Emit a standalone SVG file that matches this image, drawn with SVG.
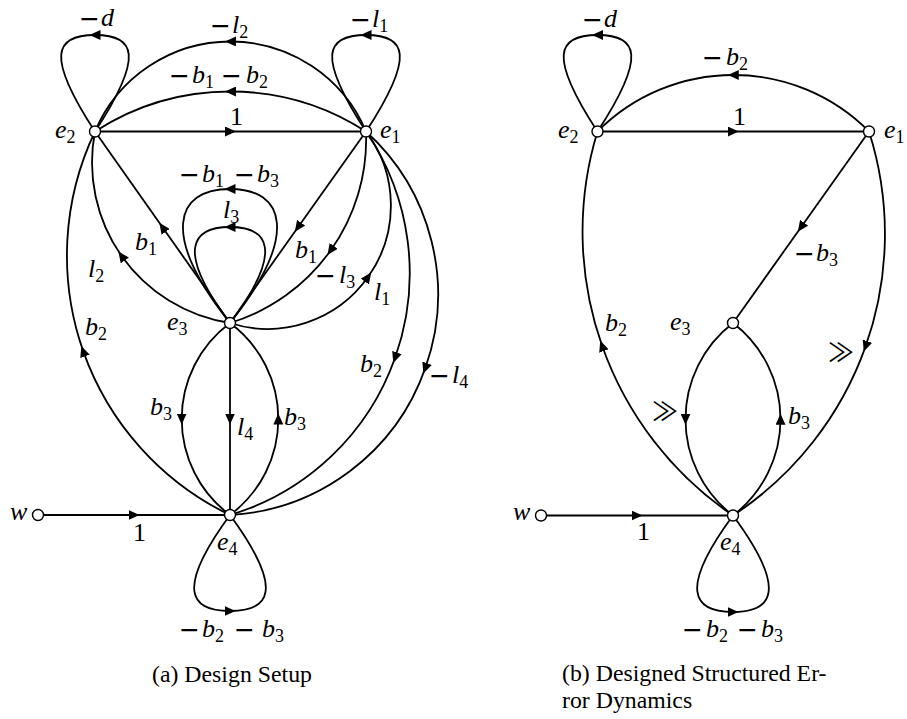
<svg xmlns="http://www.w3.org/2000/svg" width="907" height="719" viewBox="0 0 907 719">
<style>
.e{fill:none;stroke:#000;stroke-width:1.8;marker-mid:url(#a)}
.n{fill:#fff;stroke:#000;stroke-width:1.4}
.t{font-family:'Liberation Serif','Times New Roman',Times,'DejaVu Serif',serif;font-size:26px;font-style:italic;fill:#000}
.s{font-size:18px;font-style:normal}
.u{font-style:normal}
.mn{font-family:'DejaVu Sans',sans-serif;font-style:normal;font-size:25px}
.gg{font-family:'Noto Sans CJK JP','DejaVu Sans',sans-serif;font-size:26px;font-style:normal}
.cap{font-family:'Liberation Serif','Times New Roman',Times,'DejaVu Serif',serif;font-size:23.8px;fill:#000}
</style>
<defs>
<marker id="a" viewBox="0 0 11 10" refX="5.5" refY="5" markerWidth="11" markerHeight="10" markerUnits="userSpaceOnUse" orient="auto"><path d="M0,0 L11,5 L0,10 z" fill="#000"/></marker>
</defs>

<!-- (a) Design Setup -->
<g id="connectors-a">
<path class="e" d="M95,131.5 C145,55 135,35 95,35 C55,35 45,55 95,131.5"/>
<path class="e" d="M366,131.5 C416,55 406,35 366,35 C326,35 316,55 366,131.5"/>
<path class="e" d="M366,131.5 A147,147 0 0 0 230.5,41.5 A147,147 0 0 0 95,131.5"/>
<path class="e" d="M366,131.5 A249.5,249.5 0 0 0 230.5,91.5 A249.5,249.5 0 0 0 95,131.5"/>
<path class="e" d="M95,131.5 L230.5,131.5 L366,131.5"/>
<path class="e" d="M230,323 C300,235 285,189 230,189 C175,189 160,235 230,323"/>
<path class="e" d="M230,323 C285,250 268,227 230,227 C192,227 175,250 230,323"/>
<path class="e" d="M230,323 L162.5,227.25 L95,131.5"/>
<path class="e" d="M366,131.5 L298,227.25 L230,323"/>
<path class="e" d="M366,131.5 A191.7,191.7 0 0 1 330.6,250.45 A191.7,191.7 0 0 1 230,323"/>
<path class="e" d="M230,323 A122.9,122.9 0 0 0 368,277.1 A122.9,122.9 0 0 0 366,131.5"/>
<path class="e" d="M230,323 A162.7,162.7 0 0 1 121.6,256 A162.7,162.7 0 0 1 95,131.5"/>
<path class="e" d="M230,515 A288.5,288.5 0 0 1 83.2,351.1 A288.5,288.5 0 0 1 95,131.5"/>
<path class="e" d="M366,131.5 A251.5,251.5 0 0 1 395.1,357.7 A251.5,251.5 0 0 1 230,515"/>
<path class="e" d="M366,131.5 A220,220 0 0 1 425.2,368.4 A220,220 0 0 1 230,515"/>
<path class="e" d="M230,323 A119.6,119.6 0 0 0 181.7,419 A119.6,119.6 0 0 0 230,515"/>
<path class="e" d="M230,323 L230,419 L230,515"/>
<path class="e" d="M230,515 A119.6,119.6 0 0 0 278.3,419 A119.6,119.6 0 0 0 230,323"/>
<path class="e" d="M38,515 L134,515 L230,515"/>
<path class="e" d="M230,515 C175,590 190,611 230,611 C270,611 285,590 230,515"/>
</g>
<g id="labels-a">
<text class="t" y="26"><tspan class="mn" x="79" dy="1">−</tspan><tspan x="101" dy="-1">d</tspan></text>
<text class="t" y="33"><tspan class="mn" x="210" dy="1">−</tspan><tspan x="232" dy="-1">l</tspan><tspan class="s" dy="4.5">2</tspan></text>
<text class="t" y="27"><tspan class="mn" x="350" dy="1">−</tspan><tspan x="372" dy="-1">l</tspan><tspan class="s" dy="4.5">1</tspan></text>
<text class="t" y="83"><tspan class="mn" x="169" dy="1">−</tspan><tspan x="192" dy="-1">b</tspan><tspan class="s" dy="4.5">1</tspan><tspan class="mn" x="221" dy="-3.5">−</tspan><tspan x="246" dy="-1">b</tspan><tspan class="s" dy="4.5">2</tspan></text>
<text class="t u" x="230" y="125">1</text>
<text class="t" y="182"><tspan class="mn" x="179" dy="1">−</tspan><tspan x="202" dy="-1">b</tspan><tspan class="s" dy="4.5">1</tspan><tspan class="mn" x="234" dy="-3.5">−</tspan><tspan x="257" dy="-1">b</tspan><tspan class="s" dy="4.5">3</tspan></text>
<text class="t" x="223" y="218">l<tspan class="s" dy="4.5">3</tspan></text>
<text class="t" x="135" y="250">b<tspan class="s" dy="4.5">1</tspan></text>
<text class="t" x="88" y="277">l<tspan class="s" dy="4.5">2</tspan></text>
<text class="t" x="85" y="335">b<tspan class="s" dy="4.5">2</tspan></text>
<text class="t" x="295" y="258">b<tspan class="s" dy="4.5">1</tspan></text>
<text class="t" y="283"><tspan class="mn" x="315" dy="1">−</tspan><tspan x="339" dy="-1">l</tspan><tspan class="s" dy="4.5">3</tspan></text>
<text class="t" x="374" y="300">l<tspan class="s" dy="4.5">1</tspan></text>
<text class="t" x="360" y="372">b<tspan class="s" dy="4.5">2</tspan></text>
<text class="t" y="383"><tspan class="mn" x="429" dy="1">−</tspan><tspan x="452" dy="-1">l</tspan><tspan class="s" dy="4.5">4</tspan></text>
<text class="t" x="150" y="415">b<tspan class="s" dy="4.5">3</tspan></text>
<text class="t" x="237" y="435">l<tspan class="s" dy="4.5">4</tspan></text>
<text class="t" x="284" y="425">b<tspan class="s" dy="4.5">3</tspan></text>
<text class="t u" x="133" y="541">1</text>
<text class="t" y="637"><tspan class="mn" x="179" dy="1">−</tspan><tspan x="202" dy="-1">b</tspan><tspan class="s" dy="4.5">2</tspan><tspan class="mn" x="234" dy="-3.5">−</tspan><tspan x="262" dy="-1">b</tspan><tspan class="s" dy="4.5">3</tspan></text>
</g>
<g id="node-a-e2"><circle class="n" cx="95" cy="131.5" r="5.5"/><text class="t" x="55" y="138">e<tspan class="s" dy="4.5">2</tspan></text></g>
<g id="node-a-e1"><circle class="n" cx="366" cy="131.5" r="5.5"/><text class="t" x="380" y="138">e<tspan class="s" dy="4.5">1</tspan></text></g>
<g id="node-a-e3"><circle class="n" cx="230" cy="323" r="5.5"/><text class="t" x="167" y="330">e<tspan class="s" dy="4.5">3</tspan></text></g>
<g id="node-a-e4"><circle class="n" cx="230" cy="515" r="5.5"/><text class="t" x="217" y="550">e<tspan class="s" dy="4.5">4</tspan></text></g>
<g id="node-a-w"><circle class="n" cx="38" cy="515" r="5.5"/><text class="t" x="10" y="520">w</text></g>
<text class="cap" x="152" y="682">(a) Design Setup</text>

<!-- (b) Designed Structured Error Dynamics -->
<g id="connectors-b">
<path class="e" d="M597.5,131.5 C647.5,55 637.5,35 597.5,35 C557.5,35 547.5,55 597.5,131.5"/>
<path class="e" d="M869,131.5 A191.3,191.3 0 0 0 733.25,75 A191.3,191.3 0 0 0 597.5,131.5"/>
<path class="e" d="M597.5,131.5 L733.25,131.5 L869,131.5"/>
<path class="e" d="M869,131.5 L801,227.25 L733,323"/>
<path class="e" d="M869,131.5 A337,337 0 0 1 865.6,346.4 A337,337 0 0 1 733,515.5"/>
<path class="e" d="M733,515.5 A342.8,342.8 0 0 1 602.1,345.8 A342.8,342.8 0 0 1 597.5,131.5"/>
<path class="e" d="M733,323 A121.3,121.3 0 0 0 685.5,419.25 A121.3,121.3 0 0 0 733,515.5"/>
<path class="e" d="M733,515.5 A121.3,121.3 0 0 0 780.5,419.25 A121.3,121.3 0 0 0 733,323"/>
<path class="e" d="M541,515.5 L637,515.5 L733,515.5"/>
<path class="e" d="M733,515.5 C678,590 693,612 733,612 C773,612 788,590 733,515.5"/>
</g>
<g id="labels-b">
<text class="t" y="27"><tspan class="mn" x="582" dy="1">−</tspan><tspan x="604" dy="-1">d</tspan></text>
<text class="t" y="65"><tspan class="mn" x="702" dy="1">−</tspan><tspan x="726" dy="-1">b</tspan><tspan class="s" dy="4.5">2</tspan></text>
<text class="t u" x="733" y="125">1</text>
<text class="t" y="261"><tspan class="mn" x="794" dy="1">−</tspan><tspan x="816" dy="-1">b</tspan><tspan class="s" dy="4.5">3</tspan></text>
<text class="t" x="605" y="331">b<tspan class="s" dy="4.5">2</tspan></text>
<text class="gg" x="828" y="362">≫</text>
<text class="gg" x="652" y="421">≫</text>
<text class="t" x="788" y="424">b<tspan class="s" dy="4.5">3</tspan></text>
<text class="t u" x="637" y="540">1</text>
<text class="t" y="637"><tspan class="mn" x="682" dy="1">−</tspan><tspan x="706" dy="-1">b</tspan><tspan class="s" dy="4.5">2</tspan><tspan class="mn" x="737" dy="-3.5">−</tspan><tspan x="761" dy="-1">b</tspan><tspan class="s" dy="4.5">3</tspan></text>
</g>
<g id="node-b-e2"><circle class="n" cx="597.5" cy="131.5" r="5.5"/><text class="t" x="558" y="138">e<tspan class="s" dy="4.5">2</tspan></text></g>
<g id="node-b-e1"><circle class="n" cx="869" cy="131.5" r="5.5"/><text class="t" x="884" y="138">e<tspan class="s" dy="4.5">1</tspan></text></g>
<g id="node-b-e3"><circle class="n" cx="733" cy="323" r="5.5"/><text class="t" x="670" y="330">e<tspan class="s" dy="4.5">3</tspan></text></g>
<g id="node-b-e4"><circle class="n" cx="733" cy="515.5" r="5.5"/><text class="t" x="720" y="550">e<tspan class="s" dy="4.5">4</tspan></text></g>
<g id="node-b-w"><circle class="n" cx="541" cy="515.5" r="5.5"/><text class="t" x="513" y="520">w</text></g>
<text class="cap" x="562" y="680.5">(b) Designed Structured Er-</text>
<text class="cap" x="562" y="707.5">ror Dynamics</text>
</svg>
